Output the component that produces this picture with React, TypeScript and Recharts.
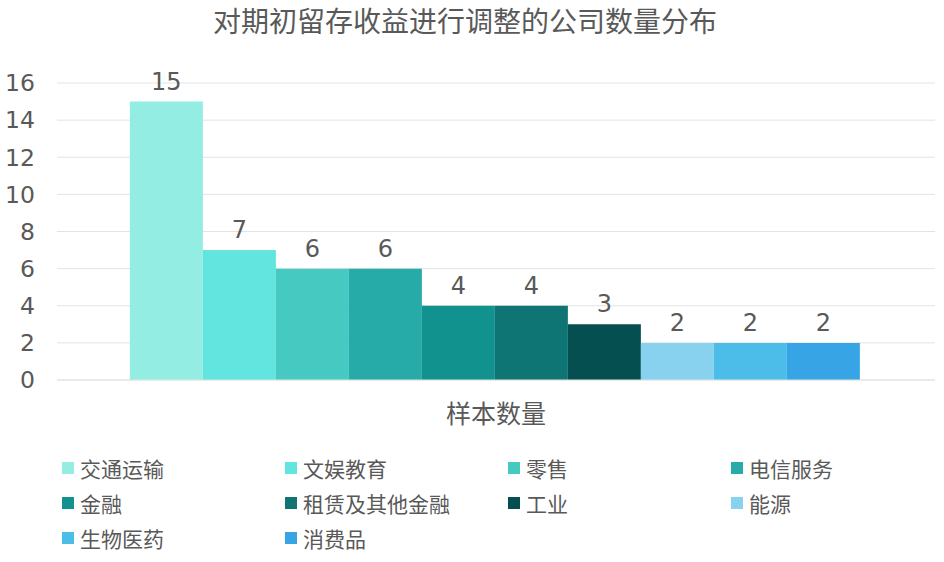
import { BarChart, Bar, XAxis, YAxis, CartesianGrid, Legend, LabelList } from "recharts";

const sectors = ["交通运输", "文娱教育", "零售", "电信服务", "金融", "租赁及其他金融", "工业", "能源", "生物医药", "消费品"];
const counts = [15, 7, 6, 6, 4, 4, 3, 2, 2, 2];
const colors = ["#93EDE3", "#62E5DE", "#45C9C1", "#27ABA8", "#12928E", "#0E7574", "#054F51", "#88D2F0", "#4BBDE8", "#36A4E5"];
const yTicks = [0, 2, 4, 6, 8, 10, 12, 14, 16];
const category = "样本数量";
const title = "对期初留存收益进行调整的公司数量分布";

const row: Record<string, string | number> = { name: category };
sectors.forEach((s, i) => (row[s] = counts[i]));
const data = [row];

const cjk = "'Noto Sans CJK SC', sans-serif";
const num = "'DejaVu Sans', 'Noto Sans CJK SC', sans-serif";
const textColor = "#595959";

function LegendBox() {
  return (
    <div
      style={{
        display: "grid",
        gridTemplateColumns: "223px 223px 223px 200px",
        rowGap: 9,
        paddingLeft: 62,
        paddingTop: 13,
        fontFamily: cjk,
        fontSize: 21,
        color: textColor,
        textAlign: "left",
      }}
    >
      {sectors.map((s, i) => (
        <div key={s} style={{ display: "flex", alignItems: "center", height: 26 }}>
          <span style={{ width: 12, height: 12, background: colors[i], marginRight: 6, display: "inline-block" }} />
          {s}
        </div>
      ))}
    </div>
  );
}

export default function App() {
  return (
    <div style={{ position: "absolute", left: 0, top: 0, width: 944, height: 562, background: "#fff" }}>
      <div
        style={{
          position: "absolute",
          top: 0,
          left: 0,
          width: 930,
          textAlign: "center",
          fontFamily: cjk,
          fontSize: 28,
          color: textColor,
        }}
      >
        {title}
      </div>
      <BarChart
        width={944}
        height={562}
        data={data}
        margin={{ top: 83, right: 9, bottom: 8, left: 0 }}
        barCategoryGap="8.3%"
        barGap={0}
      >
        <CartesianGrid vertical={false} stroke="#e3e3e3" />
        <XAxis
          dataKey="name"
          tickLine={false}
          axisLine={{ stroke: "#e3e3e3" }}
          tick={{ fontSize: 25, fill: textColor, fontFamily: cjk }}
          tickMargin={19}
          height={62}
        />
        <YAxis
          width={57}
          domain={[0, 16]}
          ticks={yTicks}
          axisLine={false}
          tickLine={false}
          tickMargin={16}
          tick={{ fontSize: 23.5, fill: textColor, fontFamily: num }}
        />
        <Legend verticalAlign="bottom" content={() => <LegendBox />} wrapperStyle={{ height: 112 }} />
        {sectors.map((s, i) => (
          <Bar key={s} dataKey={s} fill={colors[i]} isAnimationActive={false}>
            <LabelList dataKey={s} position="top" offset={12} style={{ fontSize: 24, fill: textColor, fontFamily: num }} />
          </Bar>
        ))}
      </BarChart>
    </div>
  );
}
